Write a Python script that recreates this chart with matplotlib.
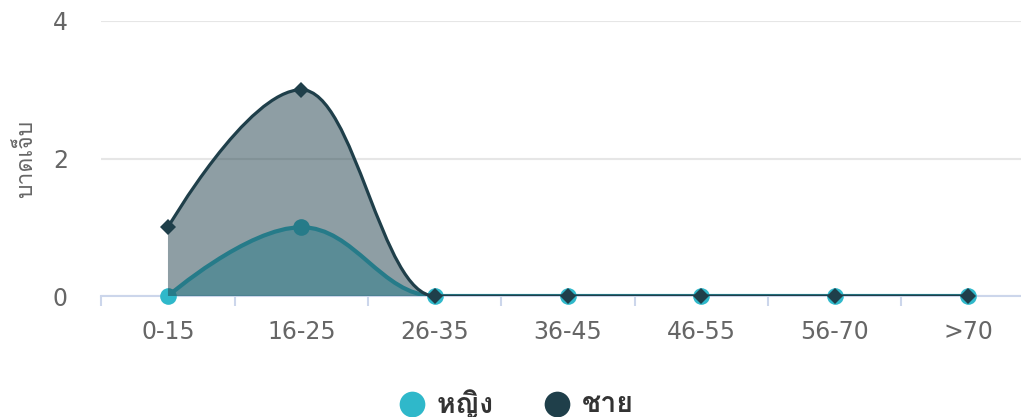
import matplotlib
matplotlib.use("Agg")
import matplotlib.pyplot as plt
from matplotlib import font_manager
from matplotlib.ft2font import FT2Font
from matplotlib.path import Path
from matplotlib.patches import PathPatch
from matplotlib.lines import Line2D

categories = ["0-15", "16-25", "26-35", "36-45", "46-55", "56-70", ">70"]
female = [0, 1, 0, 0, 0, 0, 0]
male = [1, 3, 0, 0, 0, 0, 0]
series_names = ["หญิง", "ชาย"]
y_title = "บาดเจ็บ"
yticks = [0, 2, 4]

FEMALE_C = "#2fb8ca"
MALE_C = "#1f3f4a"


def find_thai_font(bold=False):
    cands = []
    for f in font_manager.fontManager.ttflist:
        try:
            cm = FT2Font(f.fname).get_charmap()
        except Exception:
            continue
        if 0x0E1A in cm and 0x0E0D in cm:
            cands.append(f)
    if not cands:
        return None
    def score(f):
        w = f.weight if isinstance(f.weight, int) else (700 if "bold" in str(f.weight).lower() else 400)
        target = 700 if bold else 400
        return (abs(w - target), f.style != "normal")
    cands.sort(key=score)
    return cands[0].name


thai = find_thai_font()
thai_b = find_thai_font(True) or thai
fam = [thai, "DejaVu Sans"] if thai else ["DejaVu Sans"]
famb = [thai_b, "DejaVu Sans"] if thai_b else ["DejaVu Sans"]


def spline_path(xs, ys, close_base=None):
    sm = 1.5
    den = sm + 1
    n = len(xs)
    rc = [None] * n
    verts = [(xs[0], ys[0])]
    codes = [Path.MOVETO]
    for i in range(1, n):
        px, py = xs[i], ys[i]
        lx, ly = xs[i - 1], ys[i - 1]
        lcx, lcy = px, py
        if i + 1 < n:
            nx, ny = xs[i + 1], ys[i + 1]
            lcx = (sm * px + lx) / den
            lcy = (sm * py + ly) / den
            rcx = (sm * px + nx) / den
            rcy = (sm * py + ny) / den
            if rcx != lcx:
                corr = ((rcy - lcy) * (rcx - px)) / (rcx - lcx) + py - rcy
                lcy += corr
                rcy += corr
            if lcy > ly and lcy > py:
                lcy = max(ly, py); rcy = 2 * py - lcy
            elif lcy < ly and lcy < py:
                lcy = min(ly, py); rcy = 2 * py - lcy
            if rcy > ny and rcy > py:
                rcy = max(ny, py); lcy = 2 * py - rcy
            elif rcy < ny and rcy < py:
                rcy = min(ny, py); lcy = 2 * py - rcy
            rc[i] = (rcx, rcy)
        c1 = rc[i - 1] if rc[i - 1] is not None else (lx, ly)
        verts += [c1, (lcx, lcy), (px, py)]
        codes += [Path.CURVE4] * 3
    if close_base is not None:
        verts += [(xs[-1], close_base), (xs[0], close_base), (xs[0], ys[0])]
        codes += [Path.LINETO, Path.LINETO, Path.CLOSEPOLY]
    return Path(verts, codes)


W, H = 1021, 417
fig = plt.figure(figsize=(W / 100, H / 100), dpi=100)
left, right = 101.3 / W, 1034.7 / W
bottom, top = 1 - 296 / H, 1 - 21 / H
ax = fig.add_axes([left, bottom, right - left, top - bottom])
ax.set_xlim(-0.5, len(categories) - 0.5)
ax.set_ylim(0, 4)

xs = list(range(len(categories)))

# female series
ax.add_patch(PathPatch(spline_path(xs, female, 0), facecolor=FEMALE_C, alpha=0.5,
                       edgecolor="none", zorder=2))
ax.add_patch(PathPatch(spline_path(xs, female), facecolor="none", edgecolor=FEMALE_C,
                       lw=3.0, zorder=3, capstyle="round", joinstyle="round"))
ax.plot(xs, female, linestyle="none", marker="o", ms=12, color=FEMALE_C,
        markeredgewidth=0, zorder=4, clip_on=False)

# male series
ax.add_patch(PathPatch(spline_path(xs, male, 0), facecolor=MALE_C, alpha=0.5,
                       edgecolor="none", zorder=5))
ax.add_patch(PathPatch(spline_path(xs, male), facecolor="none", edgecolor=MALE_C,
                       lw=2.3, zorder=6, capstyle="round", joinstyle="round"))
ax.plot(xs, male, linestyle="none", marker="D", ms=8.3, color=MALE_C,
        markeredgewidth=0, zorder=7, clip_on=False)

# axes styling
for s in ["top", "right", "left"]:
    ax.spines[s].set_visible(False)
ax.spines["bottom"].set_color("#ccd6eb")
ax.spines["bottom"].set_linewidth(1.5)
ax.spines["bottom"].set_zorder(1)

ax.set_xticks(xs)
ax.set_xticklabels(categories)
ax.set_xticks([x - 0.5 for x in range(len(categories) + 1)], minor=True)
ax.tick_params(axis="x", which="major", length=0, pad=17, labelsize=17, labelcolor="#666666")
ax.tick_params(axis="x", which="minor", length=7.5, width=1.5, color="#ccd6eb")
ax.set_yticks(yticks)
ax.set_yticklabels([str(v) for v in yticks])
ax.tick_params(axis="y", length=0, pad=24, labelsize=17, labelcolor="#666666")
ax.grid(axis="y", color="#e6e6e6", lw=1.5, zorder=0)
ax.set_axisbelow(True)

ax.set_ylabel(y_title, fontsize=16.5, color="#666666", family=fam)
ax.yaxis.set_label_coords((37 - 101.3) / (1034.7 - 101.3), 0.5)

# legend (manual placement in figure coordinates)
leg_y = 1 - 404 / H
for cx, tx, name, col in [(412, 437, series_names[0], FEMALE_C),
                          (557, 582, series_names[1], MALE_C)]:
    fig.add_artist(Line2D([cx / W], [leg_y], transform=fig.transFigure, linestyle="none",
                          marker="o", ms=18.5, color=col, markeredgewidth=0))
    fig.text(tx / W, leg_y, name, ha="left", va="center", fontsize=20.5, fontweight="bold",
             color="#333333", family=famb)

fig.savefig("out.png", dpi=100)
